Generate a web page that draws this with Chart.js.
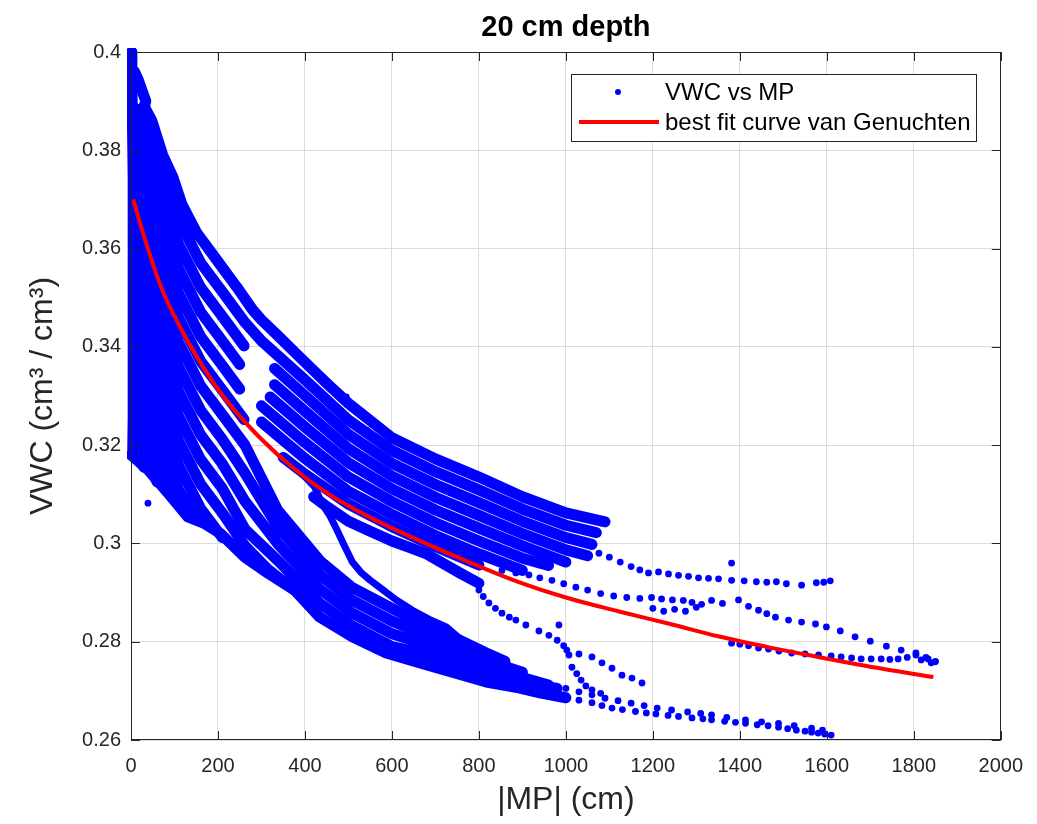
<!DOCTYPE html>
<html>
<head>
<meta charset="utf-8">
<title>20 cm depth</title>
<script src="https://cdn.jsdelivr.net/npm/chart.js@4.4.1/dist/chart.umd.min.js"></script>
<style>
  html, body { margin: 0; padding: 0; background: #fff; }
  #wrap { width: 1037px; height: 824px; }
</style>
</head>
<body>
<div id="wrap"><canvas id="vwcChart" width="1037" height="824"></canvas></div>
<script>
// Axis ticks
const xTicks = [0, 200, 400, 600, 800, 1000, 1200, 1400, 1600, 1800, 2000];
const yTicks = [0.26, 0.28, 0.30, 0.32, 0.34, 0.36, 0.38, 0.40];

// Best fit curve
const fitMP  = [5, 30, 70, 110, 150, 185, 225, 300, 375, 450, 530, 610, 680, 780, 890, 1000, 1120, 1240, 1350, 1470, 1580, 1700, 1845];
const fitVWC = [0.370, 0.3625, 0.352, 0.3445, 0.3382, 0.3333, 0.3285, 0.3212, 0.3152, 0.3103, 0.3062, 0.3027, 0.2999, 0.2961, 0.2922, 0.289, 0.2862, 0.2836, 0.2811, 0.2788, 0.2769, 0.2749, 0.2728];

// Measurements, |MP| (cm) vs VWC, grouped in traces that run close together
const leftColumn = [
  [[1,0.400],[2,0.394],[3,0.388],[4,0.381],[5,0.374],[5,0.366],[5,0.358],[5,0.350],[5,0.342],[5,0.334],[5,0.326],[4,0.319]],
  [[12,0.386],[13,0.375],[13,0.362],[13,0.350],[13,0.338],[13,0.326],[10,0.320]],
  [[8,0.396],[16,0.3945],[26,0.392],[34,0.390],[28,0.388],[16,0.3875],[10,0.385]]
];

// steep traces in the upper left
const upperFingers = [
  [[30,0.389],[48,0.386],[73,0.379],[96,0.3746],[117,0.369],[151,0.3632],[197,0.3577],[243,0.3522],[280,0.3475],[300,0.3455],[335,0.3425],[388,0.3379],[450,0.3326],[500,0.3285],[600,0.3215],[700,0.3172],[800,0.3135],[900,0.3095],[1000,0.3062],[1090,0.3044]],
  [[10,0.3885],[60,0.3775],[110,0.3658],[160,0.3571],[210,0.3512],[260,0.3452],[300,0.3412],[400,0.3333],[500,0.3251],[600,0.3189],[700,0.3146],[800,0.3109],[900,0.307],[1000,0.3037],[1070,0.3022]],
  [[10,0.3835],[60,0.3725],[110,0.3608],[160,0.3521],[210,0.3462],[260,0.3402]],
  [[10,0.3785],[60,0.3675],[110,0.3558],[160,0.3471],[210,0.3412],[250,0.3364]],
  [[10,0.3735],[60,0.3625],[110,0.3508],[160,0.3421],[210,0.3362],[250,0.3314]],
  [[10,0.3685],[60,0.3575],[110,0.3458],[160,0.3371],[210,0.3312],[260,0.3252]],
  [[10,0.3385],[60,0.3275],[110,0.3158],[160,0.3071],[210,0.3012]],
  [[10,0.3335],[60,0.3225],[110,0.3108],[150,0.305]],
  [[10,0.3285],[60,0.3175],[100,0.309]],
  [[10,0.3235],[60,0.3125]],
  [[5,0.3185],[30,0.3155]]
];

// gentle traces between the upper envelope and the fit line
const upperBand = [
  [[330,0.3356],[400,0.3301],[500,0.3222],[600,0.3163],[700,0.312],[800,0.3083],[900,0.3045],[1000,0.3012],[1060,0.2998]],
  [[330,0.3323],[400,0.3269],[500,0.3193],[600,0.3137],[700,0.3094],[800,0.3057],[900,0.302],[1000,0.2987],[1050,0.2975]],
  [[320,0.3298],[400,0.3237],[500,0.3164],[600,0.3111],[700,0.3068],[800,0.3031],[900,0.2995],[1000,0.2962]],
  [[300,0.328],[400,0.3205],[500,0.3135],[600,0.3085],[700,0.3042],[800,0.3005],[900,0.297],[960,0.2955]],
  [[300,0.3247],[400,0.3173],[500,0.3106],[600,0.3059],[700,0.3016],[800,0.2979],[900,0.2945]],
  [[350,0.3175],[400,0.3141],[500,0.308],[600,0.3034],[700,0.2994],[800,0.2956]],
  [[420,0.3095],[452,0.3074],[500,0.3045],[550,0.3025],[600,0.3005],[640,0.2992],[681,0.2978],[720,0.2958],[760,0.2938],[800,0.2919]]
];

// traces that fall away below the fit line
const lowerBand = [
  [[10,0.3635],[60,0.3525],[110,0.3408],[160,0.3321],[210,0.3262],[262,0.320],[337,0.3068],[434,0.2965],[509,0.291],[600,0.2868],[680,0.2832],[739,0.281],[817,0.2777],[860,0.276]],
  [[10,0.3585],[60,0.3475],[110,0.3358],[160,0.3271],[210,0.3212],[262,0.3143],[337,0.3034],[434,0.2936],[509,0.2884],[600,0.2842],[680,0.2813],[739,0.2792],[817,0.2762],[900,0.2738]],
  [[10,0.3535],[60,0.3425],[110,0.3308],[160,0.3221],[210,0.3162],[262,0.3086],[337,0.300],[434,0.2907],[509,0.2858],[600,0.2816],[680,0.2794],[739,0.2774],[817,0.2747],[900,0.2727],[960,0.2712]],
  [[10,0.3485],[60,0.3375],[110,0.3258],[160,0.3171],[210,0.3112],[262,0.3029],[337,0.2966],[434,0.2878],[509,0.2832],[600,0.279],[680,0.2775],[739,0.2756],[817,0.2733],[900,0.2716],[980,0.2705]],
  [[10,0.3435],[60,0.3325],[110,0.3208],[160,0.3121],[210,0.3062],[262,0.2995],[314,0.2948],[376,0.2905]],
  [[0,0.318],[39,0.315],[85,0.3103],[131,0.3054],[170,0.304],[206,0.302],[262,0.2972],[314,0.294],[376,0.2905],[434,0.285],[509,0.281],[587,0.2777],[663,0.2757],[739,0.2738],[817,0.2718],[892,0.2706],[940,0.2696],[1000,0.2686]]
];

// thinner single runs
const thinRuns = [
  [[390,0.3145],[422,0.3115],[440,0.308],[458,0.3055],[475,0.3025],[491,0.2995],[509,0.2962],[530,0.294],[550,0.2925],[571,0.2911],[610,0.2885],[647,0.2864],[685,0.2846],[725,0.283],[762,0.2802],[800,0.2772],[817,0.2763]]
];

const rightTopDots = [[1076,0.298],[1100,0.2972],[1125,0.2962],[1150,0.2953],[1170,0.2946],[1190,0.294],[1213,0.2942],[1236,0.2938],[1259,0.2935],[1282,0.2933],[1305,0.293],[1328,0.2929],[1351,0.2928],[1381,0.2925],[1410,0.2924],[1438,0.2922],[1462,0.2921],[1484,0.2922],[1507,0.2918],[1542,0.2915],[1576,0.292],[1593,0.2921],[1608,0.2924],[1092,0.3044],[1381,0.296]];

const rightMidDots = [[853,0.2945],[885,0.294],[915,0.2936],[940,0.293],[968,0.2925],[995,0.2918],[1023,0.2911],[1050,0.2905],[1080,0.2898],[1110,0.2893],[1140,0.289],[1170,0.2888],[1197,0.289],[1220,0.2887],[1245,0.2885],[1270,0.2884],[1290,0.288],[1312,0.2876],[1335,0.2884],[1360,0.2878],[1397,0.2885],[1420,0.2872],[1443,0.2864],[1462,0.2857],[1482,0.285],[1512,0.2844],[1542,0.284],[1574,0.2836],[1599,0.283],[1631,0.2822],[1665,0.281],[1700,0.2801],[1737,0.2791],[1771,0.2783],[1805,0.2777],[1833,0.2765],[1849,0.2759],[1200,0.2868],[1225,0.2862],[1250,0.2866],[1275,0.2862],[1300,0.287]];

const rightLowDots = [[1381,0.2797],[1400,0.2795],[1420,0.2792],[1443,0.2787],[1466,0.2785],[1490,0.2781],[1519,0.2777],[1550,0.2775],[1581,0.2773],[1610,0.2771],[1633,0.2769],[1657,0.2767],[1679,0.2765],[1702,0.2765],[1725,0.2765],[1745,0.2764],[1764,0.2765],[1785,0.2768],[1805,0.2773],[1817,0.2763],[1828,0.2768],[1840,0.2757],[1850,0.276]];

const bottomTailDots = [[1030,0.2681],[1060,0.2676],[1083,0.267],[1106,0.2665],[1130,0.2662],[1160,0.2658],[1185,0.2655],[1207,0.2653],[1235,0.265],[1259,0.2648],[1290,0.2645],[1315,0.2643],[1335,0.2641],[1365,0.2638],[1390,0.2636],[1413,0.2634],[1440,0.2631],[1465,0.2629],[1489,0.2626],[1510,0.2623],[1530,0.262],[1550,0.2618],[1565,0.2616],[1580,0.2614],[1595,0.2612],[1610,0.261],
  [1000,0.2705],[1030,0.2698],[1060,0.2692],[1090,0.2685],[1120,0.268],[1150,0.2675],[1180,0.267],[1210,0.2665],[1243,0.2661],[1280,0.2657],[1310,0.2654],[1335,0.2651],[1370,0.2646],[1413,0.2641],[1450,0.2637],[1489,0.2634],[1525,0.2629],[1565,0.2624],[1590,0.262]];

const hookDots = [[800,0.2905],[810,0.2892],[823,0.2879],[838,0.2868],[853,0.2858],[870,0.285],[885,0.2844],[908,0.2834],[938,0.2822],[961,0.2813],[980,0.2803],[995,0.2792],[1002,0.2783],[1007,0.2773],[984,0.2834],[1030,0.2775],[1060,0.2769],[1083,0.2757],[1106,0.2746],[1129,0.2732],[1152,0.2726],[1175,0.2716],[1014,0.2748],[1025,0.2735],[1035,0.2722],[1046,0.271],[1060,0.2702],[1080,0.2695]];

const looseDots = [[39,0.3082],[475,0.3306],[485,0.3302],[495,0.3298],[505,0.3247],[543,0.323],[601,0.3214]];

const BLUE = '#0000ff';
const RED = '#ff0000';
const FONT = "'Liberation Sans', Arial, Helvetica, sans-serif";
const INK = '#262626';

const toPoints = (pairs) => pairs.map(([x, y]) => ({ x, y }));

const datasets = [];

// red fit line, drawn on top (lowest order)
datasets.push({
  label: 'best fit curve van Genuchten',
  data: fitMP.map((x, i) => ({ x, y: fitVWC[i] })),
  showLine: true,
  borderColor: RED,
  borderWidth: 4,
  pointRadius: 0,
  cubicInterpolationMode: 'monotone',
  order: 0
});

// dense runs of points, drawn as thick strokes through them
const addRuns = (runs, width) => {
  runs.forEach((run) => {
    datasets.push({
      label: 'VWC vs MP',
      data: toPoints(run),
      showLine: true,
      borderColor: BLUE,
      borderWidth: width,
      borderCapStyle: 'round',
      borderJoinStyle: 'round',
      pointRadius: 0,
      clip: 4,
      order: 1
    });
  });
};
addRuns([...leftColumn, ...upperFingers, ...upperBand, ...lowerBand], 11);
addRuns(thinRuns, 7);

// loose points
[rightTopDots, rightMidDots, rightLowDots, bottomTailDots, hookDots, looseDots].forEach((dots) => {
  datasets.push({
    label: 'VWC vs MP',
    data: toPoints(dots),
    showLine: false,
    pointRadius: 3.4,
    pointBorderWidth: 0,
    backgroundColor: BLUE,
    clip: 4,
    order: 1
  });
});

// box around the axes with inward ticks (matlab style)
const axesBox = {
  id: 'axesBox',
  afterDatasetsDraw(chart) {
    const { ctx, chartArea: a, scales: { x, y } } = chart;
    const len = 9;
    ctx.save();
    ctx.strokeStyle = INK;
    ctx.lineWidth = 1;
    ctx.strokeRect(Math.round(a.left) + 0.5, Math.round(a.top) + 0.5, Math.round(a.width) - 1, Math.round(a.height) - 1);
    ctx.beginPath();
    x.ticks.forEach((t) => {
      const px = Math.round(x.getPixelForValue(t.value)) + 0.5;
      ctx.moveTo(px, a.bottom); ctx.lineTo(px, a.bottom - len);
      ctx.moveTo(px, a.top); ctx.lineTo(px, a.top + len);
    });
    y.ticks.forEach((t) => {
      const py = Math.round(y.getPixelForValue(t.value)) + 0.5;
      ctx.moveTo(a.left, py); ctx.lineTo(a.left + len, py);
      ctx.moveTo(a.right, py); ctx.lineTo(a.right - len, py);
    });
    ctx.stroke();
    ctx.restore();
  }
};

// legend box in the upper right corner of the axes
const legendBox = {
  id: 'legendBox',
  afterDraw(chart) {
    const { ctx, chartArea: a } = chart;
    const sets = chart.data.datasets;
    const fit = sets[0];
    const pts = sets[1];
    const left = Math.round(a.right - 430), top = Math.round(a.top + 22);
    const w = 405, h = 67;
    ctx.save();
    ctx.fillStyle = '#fff';
    ctx.fillRect(left, top, w, h);
    ctx.strokeStyle = INK;
    ctx.lineWidth = 1;
    ctx.strokeRect(left + 0.5, top + 0.5, w, h);

    ctx.fillStyle = BLUE;
    ctx.beginPath();
    ctx.arc(left + 47, top + 18, 3, 0, Math.PI * 2);
    ctx.fill();

    ctx.strokeStyle = RED;
    ctx.lineWidth = 4;
    ctx.beginPath();
    ctx.moveTo(left + 8, top + 48);
    ctx.lineTo(left + 88, top + 48);
    ctx.stroke();

    ctx.fillStyle = '#000';
    ctx.font = '24px ' + FONT;
    ctx.textBaseline = 'middle';
    ctx.textAlign = 'left';
    ctx.fillText(pts.label, left + 94, top + 19);
    ctx.fillText(fit.label, left + 94, top + 49);
    ctx.restore();
  }
};

const ctx = document.getElementById('vwcChart').getContext('2d');
new Chart(ctx, {
  type: 'scatter',
  data: { datasets },
  options: {
    responsive: false,
    animation: false,
    devicePixelRatio: 1,
    events: [],
    layout: { padding: { top: 0, right: 35, bottom: 0, left: 0 } },
    plugins: {
      legend: { display: false },
      tooltip: { enabled: false },
      title: {
        display: true,
        fullSize: false,
        text: '20 cm depth',
        color: '#000',
        font: { family: FONT, size: 29, weight: 'bold' },
        padding: { top: 11, bottom: 6.2 }
      }
    },
    scales: {
      x: {
        type: 'linear',
        min: 0,
        max: 2000,
        afterBuildTicks: (scale) => { scale.ticks = xTicks.map((v) => ({ value: v })); },
        afterFit: (scale) => { scale.height = 84; },
        ticks: {
          autoSkip: false,
          maxRotation: 0,
          padding: 14,
          color: INK,
          font: { family: FONT, size: 20 },
          callback: (v) => String(v)
        },
        grid: { color: '#dcdcdc', drawTicks: false },
        border: { display: false },
        title: {
          display: true,
          text: '|MP| (cm)',
          color: INK,
          font: { family: FONT, size: 32 },
          padding: { top: 0, bottom: 5 }
        }
      },
      y: {
        type: 'linear',
        min: 0.26,
        max: 0.40,
        afterBuildTicks: (scale) => { scale.ticks = yTicks.map((v) => ({ value: v })); },
        afterFit: (scale) => { scale.width = 131; },
        ticks: {
          padding: 10,
          color: INK,
          font: { family: FONT, size: 20 },
          callback: (v) => String(Number(v.toFixed(2)))
        },
        grid: { color: '#dcdcdc', drawTicks: false },
        border: { display: false },
        title: {
          display: true,
          text: 'VWC (cm\u00B3 / cm\u00B3)',
          color: INK,
          font: { family: FONT, size: 32 },
          padding: { top: 24, bottom: 0 }
        }
      }
    }
  },
  plugins: [axesBox, legendBox]
});
</script>
</body>
</html>
